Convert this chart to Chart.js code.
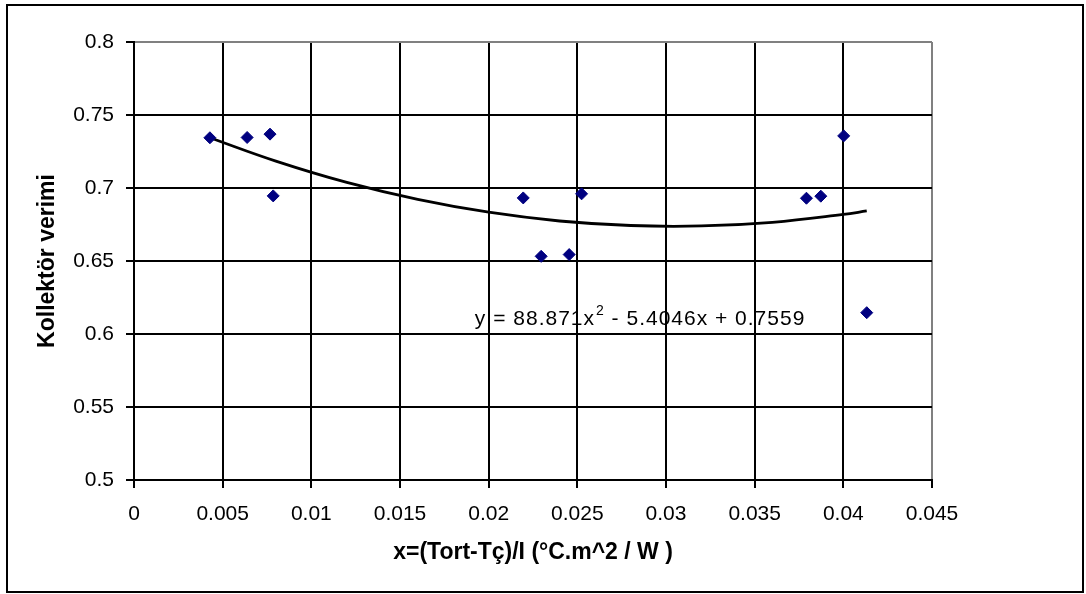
<!DOCTYPE html>
<html>
<head>
<meta charset="utf-8">
<script src="https://cdn.jsdelivr.net/npm/chart.js@4.4.1/dist/chart.umd.min.js"></script>
<style>
  html, body { margin: 0; padding: 0; background: #fff; }
  #wrap { width: 1086px; height: 594px; }
</style>
</head>
<body>
<div id="wrap"><canvas id="verimChart" width="1086" height="594"></canvas></div>
<script>
// measured points
const xValues = [0.00428, 0.00638, 0.00767, 0.00785, 0.02195, 0.02296, 0.02454, 0.02524, 0.03792, 0.03873, 0.04002, 0.04132];
const yValues = [0.7344, 0.7346, 0.7369, 0.6946, 0.6932, 0.6532, 0.6544, 0.6960, 0.6930, 0.6944, 0.7357, 0.6146];

// trendline
const trendX = [0.00428, 0.008, 0.012, 0.016, 0.020, 0.024, 0.028, 0.032, 0.036, 0.040, 0.04132];
const trendY = [0.7344, 0.7184, 0.7038, 0.6922, 0.6834, 0.6774, 0.6743, 0.6740, 0.6765, 0.6819, 0.6843];

const xTickLabels = ['0', '0.005', '0.01', '0.015', '0.02', '0.025', '0.03', '0.035', '0.04', '0.045'];
const yTickLabels = ['0.5', '0.55', '0.6', '0.65', '0.7', '0.75', '0.8'];

const xTitle = 'x=(Tort-Tç)/I (°C.m^2 / W )';
const yTitle = 'Kollektör verimi';
const eqParts = ['y = 88.871x', '2', ' - 5.4046x + 0.7559'];
const eqAt = { x: 0.01922, y: 0.6059 };

const FONT = '"Liberation Sans", Arial, sans-serif';

const framePlugin = {
    id: 'frame',
    beforeDraw(chart) {
        const c = chart.ctx;
        c.save();
        c.fillStyle = '#fff';
        c.fillRect(0, 0, chart.width, chart.height);
        c.strokeStyle = '#000';
        c.lineWidth = 2;
        c.strokeRect(7, 5, 1076, 587);
        c.restore();
    }
};

const equationPlugin = {
    id: 'equation',
    afterDatasetsDraw(chart) {
        const c = chart.ctx;
        let px = chart.scales.x.getPixelForValue(eqAt.x);
        const py = chart.scales.y.getPixelForValue(eqAt.y);
        c.save();
        c.fillStyle = '#000';
        c.textBaseline = 'alphabetic';
        c.textAlign = 'left';
        c.letterSpacing = '1px';
        c.font = '21px ' + FONT;
        c.fillText(eqParts[0], px, py);
        px += c.measureText(eqParts[0]).width + 1;
        c.font = '14px ' + FONT;
        c.fillText(eqParts[1], px, py - 10);
        px += c.measureText(eqParts[1]).width;
        c.font = '21px ' + FONT;
        c.fillText(eqParts[2], px, py);
        c.restore();
    }
};

const lastGray = (count) => (ctx) => ctx.index === count - 1 ? '#808080' : '#000';

const ctx = document.getElementById('verimChart').getContext('2d');
new Chart(ctx, {
    type: 'scatter',
    data: {
        datasets: [{
            label: 'verim',
            data: xValues.map((x, i) => ({ x: x, y: yValues[i] })),
            pointStyle: 'rectRot',
            pointRadius: 6,
            pointBorderWidth: 1,
            backgroundColor: '#000080',
            borderColor: '#000080',
            order: 1
        }, {
            label: 'trend',
            type: 'line',
            data: trendX.map((x, i) => ({ x: x, y: trendY[i] })),
            borderColor: '#000',
            borderWidth: 2.8,
            pointRadius: 0,
            tension: 0.4,
            fill: false,
            order: 2
        }]
    },
    options: {
        responsive: false,
        animation: false,
        layout: {
            padding: { left: 0, right: 154, top: 42, bottom: 0 }
        },
        plugins: {
            legend: { display: false },
            tooltip: { enabled: false }
        },
        scales: {
            x: {
                type: 'linear',
                min: 0,
                max: 0.045,
                afterFit: (scale) => { scale.height = 114; },
                ticks: {
                    stepSize: 0.005,
                    autoSkip: false,
                    maxRotation: 0,
                    padding: 14,
                    color: '#000',
                    font: { family: FONT, size: 21 },
                    callback: (value, index) => xTickLabels[index]
                },
                grid: {
                    color: lastGray(xTickLabels.length),
                    lineWidth: 2,
                    tickLength: 8,
                    tickColor: '#000'
                },
                border: { color: '#000', width: 2 },
                title: {
                    display: true,
                    text: xTitle,
                    color: '#000',
                    font: { family: FONT, size: 23, weight: 'bold' },
                    padding: { top: 0, bottom: 28 }
                }
            },
            y: {
                type: 'linear',
                min: 0.5,
                max: 0.8,
                afterFit: (scale) => { scale.width = 134; },
                ticks: {
                    stepSize: 0.05,
                    autoSkip: false,
                    padding: 12,
                    color: '#000',
                    font: { family: FONT, size: 21 },
                    callback: (value, index) => yTickLabels[index]
                },
                grid: {
                    color: lastGray(yTickLabels.length),
                    lineWidth: 2,
                    tickLength: 8,
                    tickColor: '#000'
                },
                border: { color: '#000', width: 2 },
                title: {
                    display: true,
                    text: yTitle,
                    color: '#000',
                    font: { family: FONT, size: 23, weight: 'bold' },
                    padding: { top: 34, bottom: 0 }
                }
            }
        }
    },
    plugins: [framePlugin, equationPlugin]
});
</script>
</body>
</html>
